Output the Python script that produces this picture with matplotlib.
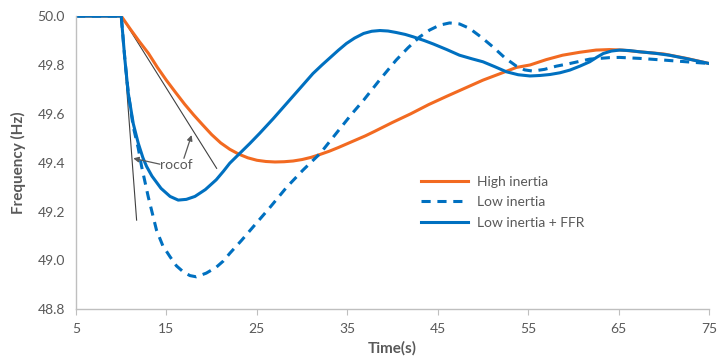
import matplotlib
matplotlib.use("Agg")
import matplotlib.pyplot as plt

plt.rcParams['font.family'] = ['Lato', 'DejaVu Sans']

# High inertia
t_high = [5, 10, 11, 12, 13, 14, 15, 16, 17, 18, 19, 20, 21, 22, 23, 24, 25,
          26, 27, 28, 29, 30, 31, 32, 33, 34, 35, 36, 37, 38, 40, 42, 44, 46,
          48, 50, 52, 53.7, 55.2, 57, 58.8, 60.7, 62.5, 64, 65.4, 67.3, 70,
          72.5, 75]
f_high = [50.0, 50.0, 49.947, 49.896, 49.848, 49.79, 49.737, 49.688, 49.64,
          49.596, 49.555, 49.515, 49.481, 49.455, 49.435, 49.42, 49.41, 49.405,
          49.403, 49.404, 49.407, 49.413, 49.422, 49.434, 49.447, 49.462,
          49.478, 49.494, 49.51, 49.528, 49.565, 49.60, 49.638, 49.672, 49.705,
          49.738, 49.766, 49.79, 49.80, 49.822, 49.84, 49.852, 49.861, 49.863,
          49.861, 49.854, 49.845, 49.827, 49.806]

# Low inertia
t_low = [5, 10, 10.41, 10.78, 11.33, 11.88, 12.25, 12.99, 13.9, 14.6, 15.4,
         16.1, 16.9, 17.6, 18.3, 19.4, 20.5, 21.3, 22.0, 23.3, 24.6, 26.4,
         28.3, 30.1, 32.0, 34.2, 35.5, 36.8, 38.6, 40.4, 41.7, 43.0, 44.1,
         45.2, 46.3, 47.4, 48.5, 49.8, 51.1, 52.4, 53.7, 54.6, 55.5, 56.8,
         58.1, 59.6, 61.8, 64.0, 65.1, 67.3, 70, 72.5, 75]
f_low = [50.0, 50.0, 49.82, 49.684, 49.547, 49.46, 49.385, 49.26, 49.124,
         49.06, 49.015, 48.978, 48.952, 48.938, 48.933, 48.948, 48.972, 48.998,
         49.029, 49.082, 49.138, 49.215, 49.30, 49.37, 49.438, 49.54, 49.60,
         49.656, 49.74, 49.82, 49.87, 49.915, 49.943, 49.963, 49.972, 49.968,
         49.95, 49.914, 49.874, 49.83, 49.795, 49.78, 49.775, 49.782, 49.795,
         49.806, 49.824, 49.83, 49.831, 49.827, 49.82, 49.813, 49.806]

# Low inertia + FFR
t_ffr = [5, 10, 10.41, 10.78, 11.33, 11.88, 12.4, 12.8, 13.4, 14.4, 15.4,
         16.3, 17.2, 18.15, 19.3, 20.5, 21.3, 22.0, 23.1, 24.2, 25.3, 26.8,
         28.3, 29.8, 31.2, 32.2, 33.1, 34.0, 34.9, 35.8, 36.8, 37.7, 38.6,
         39.5, 40.4, 41.4, 42.3, 43.5, 44.5, 46.0, 47.4, 48.8, 50.0, 51.3,
         52.6, 53.9, 55.2, 56.3, 57.4, 58.5, 59.6, 60.7, 61.8, 62.6, 63.3,
         64.2, 65.1, 66.2, 67.3, 69.0, 70.6, 72.5, 75]
f_ffr = [50.0, 50.0, 49.82, 49.684, 49.56, 49.48, 49.42, 49.385, 49.345,
         49.295, 49.262, 49.247, 49.25, 49.262, 49.29, 49.33, 49.365, 49.398,
         49.438, 49.478, 49.52, 49.58, 49.643, 49.706, 49.765, 49.80, 49.83,
         49.86, 49.888, 49.91, 49.929, 49.938, 49.941, 49.939, 49.933, 49.925,
         49.915, 49.90, 49.886, 49.863, 49.84, 49.825, 49.813, 49.793, 49.772,
         49.76, 49.755, 49.757, 49.761, 49.768, 49.779, 49.795, 49.813, 49.832,
         49.847, 49.857, 49.861, 49.859, 49.854, 49.848, 49.84, 49.826, 49.806]

# rocof tangent lines
rocof_fast_x = [10, 11.7]
rocof_fast_y = [50.0, 49.165]
rocof_slow_x = [10, 20.55]
rocof_slow_y = [50.0, 49.377]

orange = '#F26A21'
blue = '#0070C0'
grey = '#595959'

fig = plt.figure(figsize=(7.26, 3.58), dpi=100)
ax = fig.add_axes([0.1047, 0.136, 0.872, 0.819])

ax.plot(rocof_fast_x, rocof_fast_y, color='#404040', lw=0.8)
ax.plot(rocof_slow_x, rocof_slow_y, color='#404040', lw=0.8)

ax.plot(t_high, f_high, color=orange, lw=2.2, label='High inertia')
ax.plot(t_low, f_low, color=blue, lw=2.2, dashes=(3.0, 2.2), label='Low inertia')
ax.plot(t_ffr, f_ffr, color=blue, lw=2.2, label='Low inertia + FFR')

arrow = dict(arrowstyle='-|>', color=grey, lw=0.9, mutation_scale=8,
             shrinkA=0, shrinkB=0)
ax.annotate('', xy=(11.33, 49.418), xytext=(14.28, 49.394), arrowprops=arrow)
ax.annotate('', xy=(17.78, 49.513), xytext=(16.93, 49.418), arrowprops=arrow)
ax.text(14.3, 49.39, 'rocof', color=grey, fontsize=10, va='center', ha='left')

ax.set_xlim(5, 75)
ax.set_ylim(48.8, 50.0)
ax.set_xticks(range(5, 76, 10))
yt = [48.8, 49.0, 49.2, 49.4, 49.6, 49.8, 50.0]
ax.set_yticks(yt)
ax.set_yticklabels([f"{v:.1f}" for v in yt])

for s in ['top', 'right']:
    ax.spines[s].set_visible(False)
for s in ['left', 'bottom']:
    ax.spines[s].set_color('#BFBFBF')
    ax.spines[s].set_linewidth(1.0)

ax.tick_params(axis='x', direction='out', length=4, color='#BFBFBF',
               labelcolor=grey, labelsize=10, pad=6)
ax.tick_params(axis='y', length=0, labelcolor=grey, labelsize=10, pad=8)

ax.set_xlabel('Time(s)', fontsize=11, fontweight='bold', color=grey, labelpad=4)
ax.set_ylabel('Frequency (Hz)', fontsize=11, fontweight='bold', color=grey, labelpad=8)

leg = ax.legend(loc='upper left', bbox_to_anchor=(0.545, 0.455), frameon=False,
                fontsize=10, handlelength=3.4, handletextpad=0.6,
                labelspacing=0.6, borderpad=0, borderaxespad=0)
for txt in leg.get_texts():
    txt.set_color(grey)

fig.savefig('out.png', dpi=100)
